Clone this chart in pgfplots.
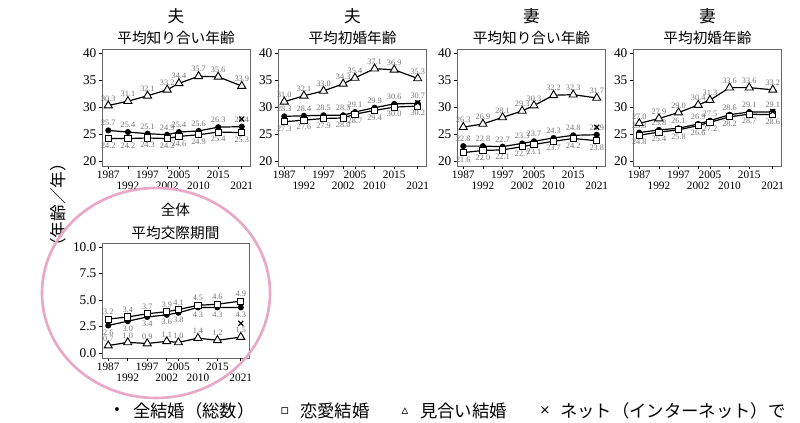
\documentclass[border=0pt]{standalone}
\usepackage{pgfplots}
\pgfplotsset{compat=1.18}
\usepackage{fontspec}
\setmainfont{Liberation Serif}
\newfontfamily\jp{Noto Sans CJK JP}
\newfontfamily\sym{DejaVu Sans}
\definecolor{lblgray}{RGB}{115,115,115}
\definecolor{ringpink}{RGB}{232,168,198}

\pgfplotsset{
  base/.style={
    scale only axis,
    width=111pt, height=87.75pt,
    xmin=1985.4, xmax=2023.1,
    axis line style={draw=black!60, line width=0.6pt},
    tick align=outside, xtick pos=left, ytick pos=left,
    major tick length=2.5pt,
    tick style={black, line width=0.6pt},
    xtick={1987,1997,2005,2015},
    extra x ticks={1992,2002,2010,2021},
    extra x tick style={xticklabel style={yshift=-8.2pt}},
    /pgf/number format/assume math mode=true,
    /pgf/number format/set thousands separator={},
    xticklabel style={font=\fontsize{8.5}{9}\selectfont, inner sep=1pt},
    yticklabel style={font=\fontsize{10}{10}\selectfont, inner sep=1.5pt},
    clip=false,
  },
  top/.style={base, ymin=19.13, ymax=40.74, ytick={20,25,30,35,40}},
  lab/.style={nodes near coords={\pgfmathprintnumber[fixed,precision=1,zerofill]{\pgfplotspointmeta}},
    every node near coord/.append style={font=\fontsize{6.2}{6.5}\selectfont, text=lblgray, inner sep=0.8pt}},
  labup/.style={lab, every node near coord/.append style={anchor=south, yshift=2pt}},
  labdn/.style={lab, every node near coord/.append style={anchor=north, yshift=-2pt}},
  sdot/.style={black, line width=0.9pt, mark=*, mark size=1.8pt, mark options={fill=black, solid}},
  ssq/.style={black, line width=0.9pt, mark=square*, mark size=2.3pt, mark options={fill=white, solid, line width=0.7pt}},
  stri/.style={black, line width=0.9pt, mark=triangle*, mark size=3.5pt, mark options={fill=white, solid, line width=0.7pt}},
  snet/.style={black, only marks, mark=x, mark size=2.6pt, mark options={line width=0.9pt}},
}

\begin{document}
\begin{tikzpicture}
\useasboundingbox (0,0) rectangle (600pt,317.25pt);

% Panel 1: husband, age when met
\begin{axis}[top, at={(76.5pt,192.75pt)}, anchor=south west]
\addplot[sdot, labup] coordinates {(1987,25.7)(1992,25.4)(1997,25.1)(2002,24.9)(2005,25.4)(2010,25.6)(2015,26.3)(2021,26.4)};
\addplot[ssq, labdn] coordinates {(1987,24.2)(1992,24.2)(1997,24.3)(2002,24.2)(2005,24.6)(2010,24.9)(2015,25.4)(2021,25.3)};
\addplot[stri, labup] coordinates {(1987,30.3)(1992,31.1)(1997,32.1)(2002,33.2)(2005,34.4)(2010,35.7)(2015,35.6)(2021,33.9)};
\addplot[snet] coordinates {(2021,27.8)};
\end{axis}

% Panel 2: husband, age at first marriage
\begin{axis}[top, at={(208.5pt,192.75pt)}, anchor=south west]
\addplot[sdot, labup] coordinates {(1987,28.3)(1992,28.4)(1997,28.5)(2002,28.5)(2005,29.1)(2010,29.9)(2015,30.6)(2021,30.7)};
\addplot[ssq, labdn] coordinates {(1987,27.3)(1992,27.6)(1997,27.9)(2002,28.0)(2005,28.7)(2010,29.4)(2015,30.0)(2021,30.2)};
\addplot[stri, labup] coordinates {(1987,31.0)(1992,32.1)(1997,33.0)(2002,34.3)(2005,35.4)(2010,37.1)(2015,36.9)(2021,35.3)};
\addplot[snet] coordinates {(2021,30.8)};
\end{axis}

% Panel 3: wife, age when met
\begin{axis}[top, at={(342.75pt,192.75pt)}, anchor=south west]
\addplot[sdot, labup] coordinates {(1987,22.8)(1992,22.8)(1997,22.7)(2002,23.3)(2005,23.7)(2010,24.3)(2015,24.8)(2021,24.9)};
\addplot[ssq, labdn] coordinates {(1987,21.6)(1992,22.0)(1997,22.1)(2002,22.7)(2005,23.1)(2010,23.7)(2015,24.2)(2021,23.8)};
\addplot[stri, labup] coordinates {(1987,26.3)(1992,26.9)(1997,28.1)(2002,29.3)(2005,30.3)(2010,32.2)(2015,32.3)(2021,31.7)};
\addplot[snet] coordinates {(2021,26.3)};
\end{axis}

% Panel 4: wife, age at first marriage
\begin{axis}[top, at={(474.75pt,192.75pt)}, anchor=south west]
\addplot[sdot, labup] coordinates {(1987,25.3)(1992,25.8)(1997,26.1)(2002,26.9)(2005,27.5)(2010,28.6)(2015,29.1)(2021,29.1)};
\addplot[ssq, labdn] coordinates {(1987,24.8)(1992,25.4)(1997,25.8)(2002,26.6)(2005,27.2)(2010,28.2)(2015,28.7)(2021,28.6)};
\addplot[stri, labup] coordinates {(1987,27.0)(1992,27.9)(1997,29.0)(2002,30.4)(2005,31.3)(2010,33.6)(2015,33.6)(2021,33.2)};
\addplot[snet] coordinates {(2021,29.2)};
\end{axis}

% Panel 5: overall, dating period
\begin{axis}[base, at={(76.5pt,48.75pt)}, anchor=south west, width=110.25pt, height=86.25pt,
  ymin=-0.47, ymax=10.38, ytick={0,2.5,5,7.5,10},
  yticklabel style={/pgf/number format/fixed, /pgf/number format/precision=1, /pgf/number format/zerofill}]
\addplot[sdot, labdn] coordinates {(1987,2.6)(1992,3.0)(1997,3.4)(2002,3.6)(2005,3.8)(2010,4.3)(2015,4.3)(2021,4.3)};
\addplot[ssq, labup] coordinates {(1987,3.2)(1992,3.4)(1997,3.7)(2002,3.9)(2005,4.1)(2010,4.5)(2015,4.6)(2021,4.9)};
\addplot[stri, labup] coordinates {(1987,0.7)(1992,1.0)(1997,0.9)(2002,1.1)(2005,1.0)(2010,1.4)(2015,1.2)(2021,1.5)};
\addplot[snet] coordinates {(2021,2.8)};
\end{axis}

% Titles
\begin{scope}[every node/.style={inner sep=0pt}]
\node[font=\jp\fontsize{12.5}{13}\selectfont] at (132pt,305.25pt) {夫};
\node[font=\jp\fontsize{11}{12}\selectfont] at (132pt,289.1pt) {平均知り合い年齢};
\node[font=\jp\fontsize{12.5}{13}\selectfont] at (264.4pt,305.25pt) {夫};
\node[font=\jp\fontsize{11}{12}\selectfont] at (264.4pt,289.1pt) {平均初婚年齢};
\node[font=\jp\fontsize{12.5}{13}\selectfont] at (398.6pt,305.25pt) {妻};
\node[font=\jp\fontsize{11}{12}\selectfont] at (398.6pt,289.1pt) {平均知り合い年齢};
\node[font=\jp\fontsize{12.5}{13}\selectfont] at (530.6pt,305.25pt) {妻};
\node[font=\jp\fontsize{11}{12}\selectfont] at (530.6pt,289.1pt) {平均初婚年齢};
\node[font=\jp\fontsize{11}{12}\selectfont] at (131.6pt,159.75pt) {全体};
\node[font=\jp\fontsize{11}{12}\selectfont] at (131.6pt,142.9pt) {平均交際期間};
\node[font=\jp\fontsize{12.5}{13}\selectfont, rotate=90] at (43.5pt,163.5pt) {（年齢／年）};
\end{scope}

% Pink ring
\draw[ringpink, line width=2pt] (117pt,97.5pt) ellipse [x radius=85.5pt, y radius=78.75pt];

% Legend
\begin{scope}[every node/.style={inner sep=0pt}]
\node[font=\sym\fontsize{10}{10}\selectfont] at (87.75pt,9pt) {•};
\node[font=\jp\fontsize{13}{13}\selectfont, anchor=west] at (99.75pt,9pt) {全結婚（総数）};
\node[font=\sym\fontsize{10}{10}\selectfont] at (213.75pt,9pt) {▫};
\node[font=\jp\fontsize{13}{13}\selectfont, anchor=west] at (225pt,9pt) {恋愛結婚};
\node[font=\sym\fontsize{10}{10}\selectfont] at (303.75pt,9pt) {▵};
\node[font=\jp\fontsize{13}{13}\selectfont, anchor=west] at (315pt,9pt) {見合い結婚};
\node[font=\sym\fontsize{10}{10}\selectfont] at (408.75pt,9pt) {×};
\node[font=\jp\fontsize{13}{13}\selectfont, anchor=west] at (420pt,9pt) {ネット（インターネット）で};
\end{scope}
\end{tikzpicture}
\end{document}
